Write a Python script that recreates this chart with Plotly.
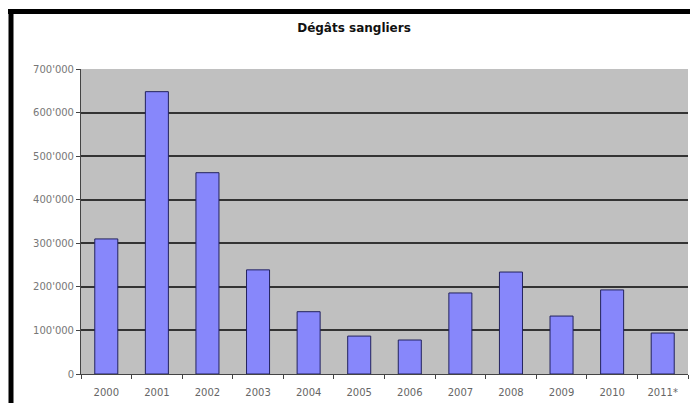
import plotly.graph_objects as go

years = ["2000", "2001", "2002", "2003", "2004", "2005", "2006", "2007", "2008", "2009", "2010", "2011*"]
degats = [310000, 648000, 462000, 239000, 143000, 87000, 78000, 186000, 234000, 133000, 193000, 94000]
ytick_vals = [0, 100000, 200000, 300000, 400000, 500000, 600000, 700000]
ytick_text = ["0", "100'000", "200'000", "300'000", "400'000", "500'000", "600'000", "700'000"]

W, H = 690, 403
L, R, T, B = 81, 2, 69, 29
pw, ph = W - L - R, H - T - B

fig = go.Figure()
fig.add_trace(go.Bar(
    x=years, y=degats,
    marker=dict(color="#8787fb", line=dict(color="#22225e", width=1)),
))

def px_x(xp):
    return (xp - L) / pw

def px_y(yp):
    return (H - B - yp) / ph

fig.update_layout(
    width=W, height=H,
    margin=dict(l=L, r=R, t=T, b=B),
    paper_bgcolor="white",
    plot_bgcolor="#c0c0c0",
    bargap=0.545,
    showlegend=False,
    title=dict(text="<b>Dégâts sangliers</b>", x=354 / W, xref="container", xanchor="center",
               y=1 - 28 / H, yref="container", yanchor="middle",
               font=dict(family="DejaVu Sans", size=12, color="#111111")),
    font=dict(family="DejaVu Sans", size=10, color="#6a6a6a"),
    xaxis=dict(
        type="category", showgrid=False, showline=True, linecolor="#444444", linewidth=1,
        ticks="outside", tickson="boundaries", ticklen=4, tickcolor="#444444",
        tickfont=dict(size=10, color="#666666"), ticklabelstandoff=9,
    ),
    yaxis=dict(
        range=[0, 700000], tickvals=ytick_vals, ticktext=ytick_text,
        showgrid=True, gridcolor="#333333", gridwidth=1.5,
        showline=True, linecolor="#444444", linewidth=1,
        ticks="outside", ticklen=4, tickcolor="#444444",
        tickfont=dict(size=10, color="#777777"), zeroline=False,
    ),
    shapes=[
        dict(type="line", xref="paper", yref="paper", x0=px_x(8), x1=px_x(700), y0=px_y(11.5), y1=px_y(11.5),
             line=dict(color="black", width=5)),
        dict(type="line", xref="paper", yref="paper", x0=px_x(11), x1=px_x(11), y0=px_y(9), y1=px_y(420),
             line=dict(color="black", width=5)),
    ],
)

fig.write_html("out.html")
